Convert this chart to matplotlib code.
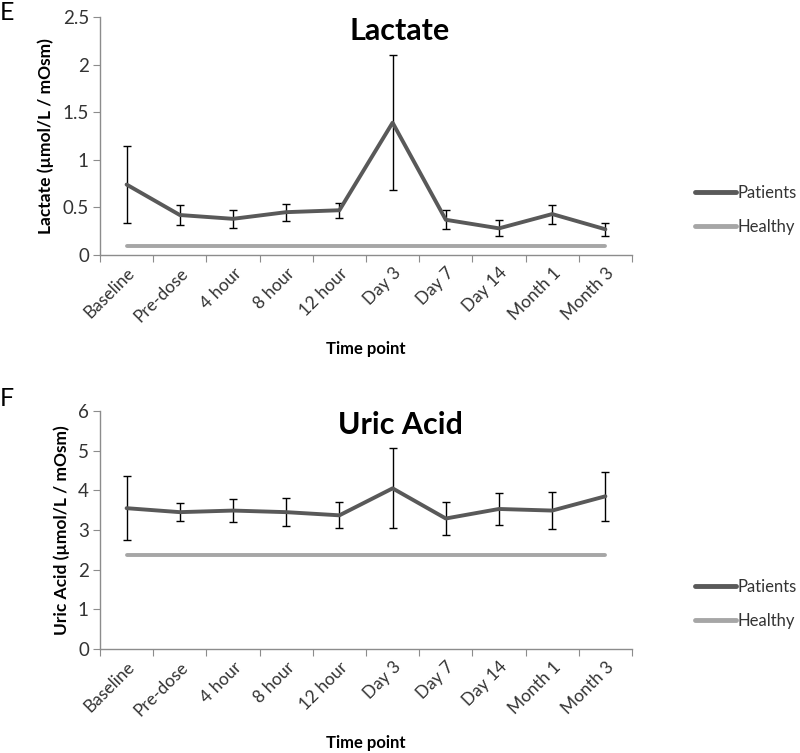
import numpy as np
import matplotlib
matplotlib.use('Agg')
import matplotlib.pyplot as plt

plt.rcParams['font.family'] = ['Lato', 'DejaVu Sans']

# ── Data ─────────────────────────────────────────────────────────────────────
time_points = ['Baseline', 'Pre-dose', '4 hour', '8 hour', '12 hour',
               'Day 3', 'Day 7', 'Day 14', 'Month 1', 'Month 3']

lactate_patients = [0.74, 0.42, 0.38, 0.45, 0.47, 1.39, 0.37, 0.28, 0.43, 0.27]
lactate_err      = [0.40, 0.11, 0.095, 0.09, 0.08, 0.71, 0.10, 0.085, 0.10, 0.07]
lactate_healthy  = [0.09, 0.09, 0.09, 0.09, 0.09, 0.09, 0.09, 0.09, 0.09, 0.09]

uric_patients = [3.55, 3.45, 3.49, 3.45, 3.37, 4.05, 3.29, 3.53, 3.49, 3.85]
uric_err      = [0.80, 0.23, 0.30, 0.35, 0.33, 1.01, 0.42, 0.40, 0.46, 0.62]
uric_healthy  = [2.37, 2.37, 2.37, 2.37, 2.37, 2.37, 2.37, 2.37, 2.37, 2.37]

PATIENT_COL = '#595959'
HEALTHY_COL = '#a6a6a6'
AXIS_COL    = '#8c8c8c'
TEXT_COL    = '#333333'

W, H = 800, 753
fig = plt.figure(figsize=(W / 100, H / 100), dpi=100)


def px_axes(x0, y0, x1, y1):
    # pixel box (top-left origin) -> figure axes
    return fig.add_axes([x0 / W, 1 - y1 / H, (x1 - x0) / W, (y1 - y0) / H])


def draw_panel(ax, patients, err, healthy, ylim, yticks, ylabel):
    x = np.arange(len(time_points))
    ax.plot(x, healthy, color=HEALTHY_COL, lw=2.8, solid_capstyle='round',
            label='Healthy', zorder=2)
    ax.errorbar(x, patients, yerr=err, fmt='none', ecolor='black',
                elinewidth=1.0, capsize=3.2, capthick=1.0, zorder=3)
    ax.plot(x, patients, color=PATIENT_COL, lw=2.8, solid_capstyle='round',
            label='Patients', zorder=4)

    ax.set_xlim(-0.5, len(time_points) - 0.5)
    ax.set_ylim(*ylim)
    ax.set_yticks(yticks)
    ax.set_yticklabels([f'{t:g}' for t in yticks], fontsize=13.5, color=TEXT_COL)

    # category boundaries as major ticks, labels on minor ticks
    ax.set_xticks(np.arange(-0.5, len(time_points)))
    ax.set_xticklabels([])
    ax.set_xticks(x, minor=True)
    ax.set_xticklabels(time_points, minor=True, rotation=45, ha='right',
                       rotation_mode='anchor', fontsize=12.5, color=TEXT_COL)
    ax.tick_params(axis='x', which='minor', length=0, pad=7)
    ax.tick_params(axis='x', which='major', length=5, color=AXIS_COL,
                   direction='out')
    ax.tick_params(axis='y', length=5, color=AXIS_COL, direction='out', pad=3)

    for side in ['top', 'right']:
        ax.spines[side].set_visible(False)
    for side in ['left', 'bottom']:
        ax.spines[side].set_color(AXIS_COL)
        ax.spines[side].set_linewidth(1.0)

    ax.set_ylabel(ylabel, fontsize=12.5, fontweight='bold', color='black',
                  labelpad=6)
    ax.set_xlabel('Time point', fontsize=12, fontweight='bold', color='black',
                  labelpad=12)

    handles, labels = ax.get_legend_handles_labels()
    order = [labels.index('Patients'), labels.index('Healthy')]
    leg = ax.legend([handles[i] for i in order], [labels[i] for i in order],
                    loc='center left', bbox_to_anchor=(1.118, 0.19),
                    frameon=False, fontsize=12, handlelength=2.5,
                    handletextpad=0.05, labelspacing=1.05, borderpad=0,
                    borderaxespad=0, labelcolor=TEXT_COL)
    for line in leg.get_lines():
        line.set_linewidth(3.5)


# ── Panel E: Lactate ─────────────────────────────────────────────────────────
ax1 = px_axes(100, 17, 632, 255)
draw_panel(ax1, lactate_patients, lactate_err, lactate_healthy,
           (0, 2.5), [0, 0.5, 1, 1.5, 2, 2.5],
           'Lactate (\u00b5mol/L / mOsm)')
fig.text(400 / W, 1 - 31 / H, 'Lactate', ha='center', va='center',
         fontsize=22, fontweight='bold')
fig.text(0 / W, 1 - 13 / H, 'E', ha='left', va='center', fontsize=18)

# ── Panel F: Uric Acid ───────────────────────────────────────────────────────
ax2 = px_axes(100, 411, 632, 649)
draw_panel(ax2, uric_patients, uric_err, uric_healthy,
           (0, 6), [0, 1, 2, 3, 4, 5, 6],
           'Uric Acid (\u00b5mol/L / mOsm)')
fig.text(400 / W, 1 - 425 / H, 'Uric Acid', ha='center', va='center',
         fontsize=22, fontweight='bold')
fig.text(0 / W, 1 - 398 / H, 'F', ha='left', va='center', fontsize=18)

fig.savefig('out.png', dpi=100)
